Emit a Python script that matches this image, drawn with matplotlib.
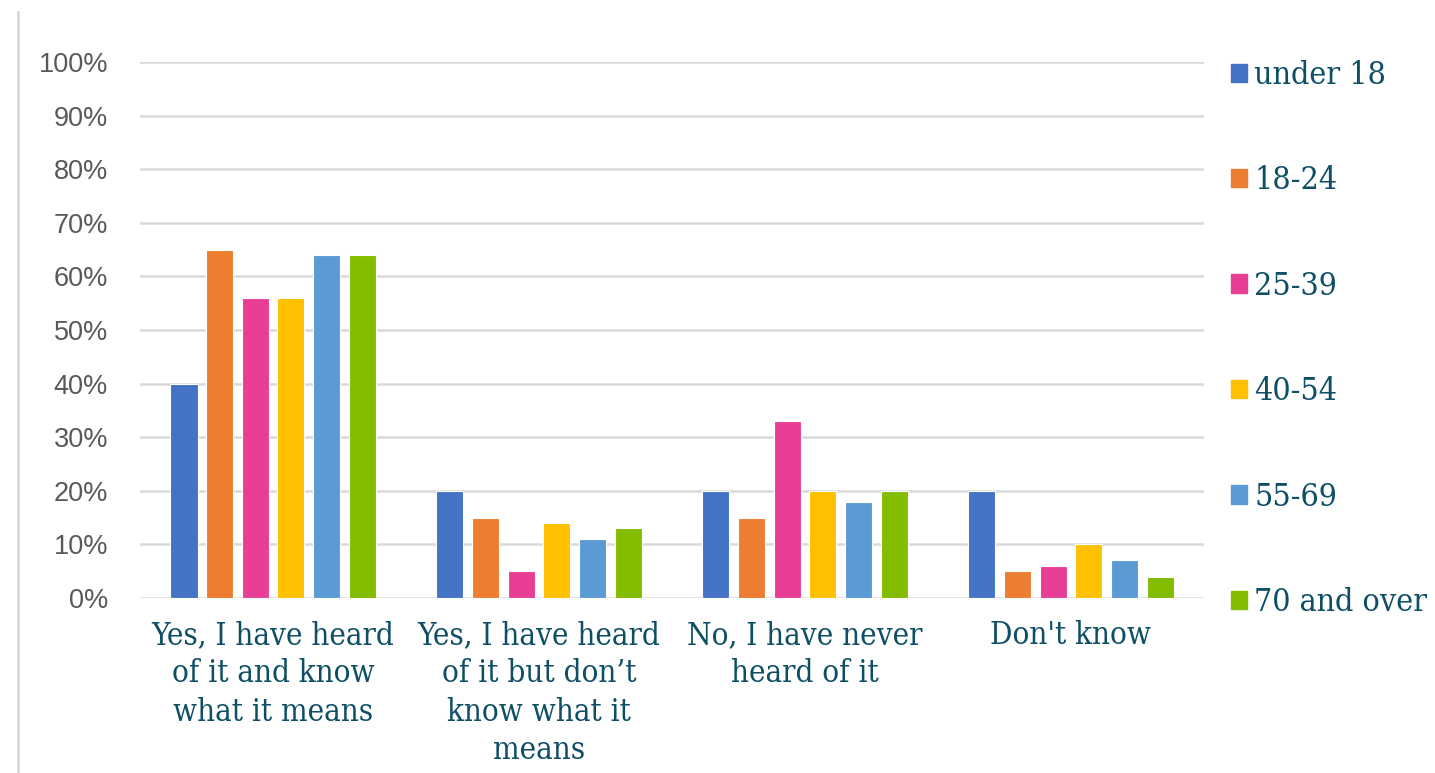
import matplotlib.pyplot as plt
import matplotlib.lines as mlines
import numpy as np

# Survey answers by age group (share of respondents)
categories = [
    "Yes, I have heard\nof it and know\nwhat it means",
    "Yes, I have heard\nof it but don\u2019t\nknow what it\nmeans",
    "No, I have never\nheard of it",
    "Don't know",
]
age_groups = ["under 18", "18-24", "25-39", "40-54", "55-69", "70 and over"]
under_18 = [0.40, 0.20, 0.20, 0.20]
age_18_24 = [0.65, 0.15, 0.15, 0.05]
age_25_39 = [0.56, 0.05, 0.33, 0.06]
age_40_54 = [0.56, 0.14, 0.20, 0.10]
age_55_69 = [0.64, 0.11, 0.18, 0.07]
age_70_plus = [0.64, 0.13, 0.20, 0.04]
series = [under_18, age_18_24, age_25_39, age_40_54, age_55_69, age_70_plus]

colors = ["#4472C4", "#ED7D31", "#E83E96", "#FFC000", "#5B9BD5", "#84BD00"]
text_color = "#0E4F66"
serif = ["DejaVu Serif"]

fig = plt.figure(figsize=(14.35, 7.73), dpi=100)
ax = fig.add_axes([0.0976, 0.2264, 0.7414, 0.6934])

x = np.arange(len(categories))
step = 0.134
width = 0.102
for i, (vals, name, col) in enumerate(zip(series, age_groups, colors)):
    offset = (i - 2.5) * step
    ax.bar(x + offset, vals, width, color=col, edgecolor="white",
           linewidth=0.8, label=name, zorder=3)

ax.set_xlim(-0.5, len(categories) - 0.5)
ax.set_ylim(0, 1.0)
ax.set_yticks(np.arange(0, 1.01, 0.1))
ax.set_yticklabels([f"{int(round(v * 100))}%" for v in np.arange(0, 1.01, 0.1)])
ax.yaxis.grid(True, color="#D9D9D9", linewidth=1.8, zorder=0)
ax.set_axisbelow(True)
for s in ax.spines.values():
    s.set_visible(False)
ax.tick_params(axis="y", length=0, pad=23, labelsize=19.5, labelcolor="#595959")
ax.tick_params(axis="x", length=0, pad=16)
for t in ax.get_yticklabels():
    t.set_family(["Liberation Sans", "DejaVu Sans"])

ax.set_xticks(x)
ax.set_xticklabels(categories, family=serif, fontstretch="condensed",
                   fontsize=22.5, color=text_color, linespacing=1.3,
                   va="top", multialignment="center")

handles = [plt.Rectangle((0, 0), 1, 1, color=c) for c in colors]
leg = fig.legend(handles, age_groups, loc="upper left",
                 bbox_to_anchor=(0.847, 0.943), frameon=False,
                 prop={"family": serif, "size": 23, "stretch": "condensed"},
                 handlelength=0.5, handleheight=0.5, handletextpad=0.22,
                 labelspacing=2.33, borderpad=0)
for t in leg.get_texts():
    t.set_color(text_color)

# light frame line at the left edge
fig.add_artist(mlines.Line2D([0.0125, 0.0125], [0.0, 0.985],
                             transform=fig.transFigure, color="#D9D9D9",
                             linewidth=2))

fig.savefig("out.png", dpi=100)
